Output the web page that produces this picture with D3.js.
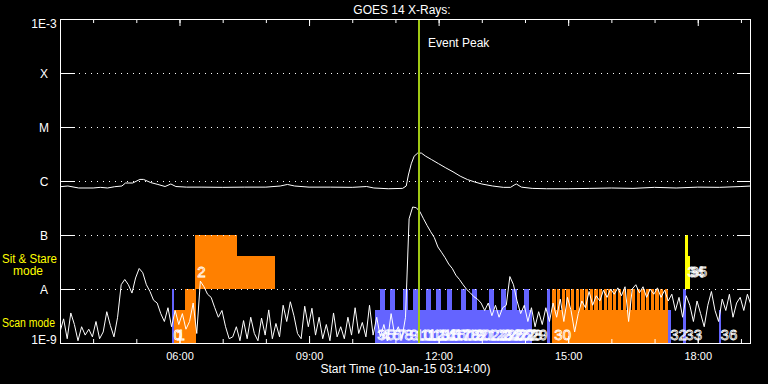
<!DOCTYPE html>
<html>
<head>
<meta charset="utf-8">
<script src="https://cdn.jsdelivr.net/npm/d3@7"></script>
<style>
  html, body { margin: 0; background: #000; }
  svg { display: block; background: #000; }
</style>
</head>
<body>
<svg id="chart" width="768" height="384"></svg>
<script>
const obsDate = [2015, 0, 10];
const startTime = '03:14';
const endTime = '19:14';
const eventPeak = '11:33';

// GOES 0.5-4 A channel in nW/m2, one sample every 5 minutes from startTime
const cadenceMinutes = 5;
const xrsShort = [
  1.6, 2.8, 1.2, 3.6, 2.2, 1.1, 2.0, 1.4, 1.8, 1.3,
  2.5, 1.2, 1.6, 3.8, 2.1, 1.3, 3.0, 12, 15, 12,
  8.4, 16, 24, 20, 12, 9, 6.2, 5.5, 3.5, 2.5,
  4.5, 2.0, 4.0, 2.2, 3.5, 1.8, 2.5, 5.5, 1.5, 14,
  11, 8, 7, 4.5, 3.0, 4.0, 2.0, 1.2, 1.3, 2.0,
  1.1, 2.6, 1.2, 3.0, 1.5, 1.1, 2.9, 1.4, 4.1, 1.2,
  2.3, 1.3, 5.0, 2.5, 5.8, 3.2, 1.5, 1.2, 4.8, 2.0,
  4.4, 1.4, 3.0, 1.2, 2.2, 1.1, 3.6, 1.3, 2.0, 1.2,
  3.0, 1.4, 4.5, 1.5, 2.4, 1.3, 5.0, 1.4, 3.0, 1.3,
  2.2, 1.1, 3.5, 1.4, 2.0, 1.2, 3.0, 200, 330, 320,
  270, 200, 150, 115, 90, 60, 48, 38, 29, 24,
  18, 15, 12, 9.8, 8.5, 7.2, 6.5, 5.5, 4.0, 5.5,
  3.2, 5.0, 3.0, 4.5, 5.0, 17, 12, 6, 3.5, 5,
  2.5, 4.5, 2.0, 3.8, 2.2, 4.5, 2.5, 5.5, 3.0, 6.5,
  2.5, 7, 4, 1.6, 3.5, 6, 4.5, 9, 5, 7.5,
  6, 9.5, 7, 10, 8, 10.5, 7.5, 11, 2.5, 10,
  12, 8.5, 11, 7, 10, 8, 10.5, 7, 9.5, 6,
  8, 4, 7, 3, 7.5, 5, 2.5, 6, 3.5, 2.0,
  5, 9, 4, 2.5, 6.5, 4, 8, 3, 5.5, 7,
  4, 8, 5,
];

// GOES 1-8 A channel in nW/m2
const xrsLongTimes = [
  '03:14', '03:25', '03:40', '04:00', '04:10', '04:20', '04:30', '04:40', '04:45', '04:55',
  '05:05', '05:10', '05:20', '05:30', '05:40', '05:48', '05:55', '06:10', '06:30', '07:00',
  '07:30', '08:00', '08:20', '08:30', '08:40', '09:00', '09:30', '10:00', '10:20', '10:30',
  '10:50', '11:10', '11:15', '11:18', '11:22', '11:26', '11:31', '11:36', '11:42', '11:50',
  '12:00', '12:10', '12:20', '12:30', '12:40', '12:50', '13:00', '13:15', '13:30', '13:40',
  '13:45', '13:48', '13:55', '14:10', '14:30', '15:00', '15:30', '16:00', '16:30', '17:00',
  '17:30', '18:00', '18:30', '19:00', '19:14',
];
const xrsLong = [
  784, 808, 742, 742, 763, 742, 784, 808, 918, 918,
  1070, 1070, 935, 863, 790, 880, 790, 770, 770, 763,
  770, 770, 808, 863, 808, 770, 770, 763, 790, 742,
  719, 730, 808, 1292, 2080, 2880, 3290, 3290, 2880, 2500,
  2090, 1750, 1480, 1230, 1065, 960, 880, 808, 763, 763,
  843, 880, 770, 730, 719, 719, 730, 742, 730, 763,
  742, 770, 763, 790, 808,
];

const yTickValues = [1e-9, 1e-8, 1e-7, 1e-6, 1e-5, 1e-4, 1e-3];
const yTickLabels = ['1E-9', 'A', 'B', 'C', 'M', 'X', '1E-3'];

// observations: start, end, program, base and top (nW/m2), number
const observations = [
  ['05:49', '05:53', 'p2', 1, 10, '0'],
  ['05:53', '06:07', 'p1', 1, 4, '1'],
  ['06:07', '06:23', 'p1', 1, 10, ''],
  ['06:22', '07:20', 'p1', 10, 100, '2'],
  ['07:20', '08:13', 'p1', 10, 40, ''],
  ['10:32', '10:38', 'p2', 1, 4, '3'],
  ['10:38', '10:45', 'p2', 1, 10, '4'],
  ['10:45', '10:53', 'p2', 1, 4, '5'],
  ['10:53', '11:00', 'p2', 1, 10, '6'],
  ['11:00', '11:10', 'p2', 1, 4, '7'],
  ['11:10', '11:17', 'p2', 1, 10, '8'],
  ['11:17', '11:25', 'p2', 1, 4, '9'],
  ['11:25', '11:32', 'p2', 1, 10, '10'],
  ['11:32', '11:42', 'p2', 1, 4, '11'],
  ['11:42', '11:49', 'p2', 1, 10, '12'],
  ['11:49', '11:57', 'p2', 1, 4, '13'],
  ['11:57', '12:04', 'p2', 1, 10, '14'],
  ['12:04', '12:12', 'p2', 1, 4, '15'],
  ['12:12', '12:19', 'p2', 1, 10, '16'],
  ['12:19', '12:31', 'p2', 1, 4, '17'],
  ['12:31', '12:38', 'p2', 1, 10, '18'],
  ['12:38', '12:47', 'p2', 1, 4, '19'],
  ['12:47', '12:54', 'p2', 1, 10, '20'],
  ['12:54', '13:10', 'p2', 1, 4, '21'],
  ['13:10', '13:17', 'p2', 1, 10, '22'],
  ['13:17', '13:26', 'p2', 1, 4, '23'],
  ['13:26', '13:33', 'p2', 1, 10, '24'],
  ['13:33', '13:42', 'p2', 1, 4, '25'],
  ['13:42', '13:49', 'p2', 1, 10, '26'],
  ['13:49', '13:58', 'p2', 1, 4, '27'],
  ['13:58', '14:05', 'p2', 1, 10, '28'],
  ['14:05', '14:10', 'p2', 1, 4, '29'],
  ['14:31', '14:35', 'p2', 1, 10, ''],
  ['14:38', '17:19', 'p1', 1, 4, '30'],
  ['17:19', '17:23', 'p2', 1, 4, '32'],
  ['17:40', '17:44', 'p2', 1, 10, '33'],
  ['17:43', '17:47', 'p3', 10, 100, '34'],
  ['17:47', '17:49', 'p3', 10, 40, '35'],
  ['18:29', '18:33', 'p2', 1, 4, '36'],
];

// repeated rasters of observation 31
const rasterStarts = [
  '14:38:00', '14:44:30', '14:51:00', '14:57:30', '15:04:00', '15:10:30', '15:17:00',
  '15:23:30', '15:30:00', '15:36:30', '15:43:00', '15:49:30', '15:56:00', '16:02:30',
  '16:09:00', '16:15:30', '16:22:00', '16:28:30', '16:35:00', '16:41:30', '16:48:00',
  '16:54:30', '17:01:00', '17:07:30', '17:14:00',
];
const rasterMinutes = 4.6;
const rasterFlux = [1, 10];

const programColors = { p1: '#ff8000', p2: '#6464ff', p3: '#ffff00' };
const font = "'Liberation Sans', Arial, sans-serif";
const nW = 1e-9;

const parseTime = (t) => {
  const [h, m, s] = t.split(':').map(Number);
  return new Date(Date.UTC(obsDate[0], obsDate[1], obsDate[2], h, m, s || 0));
};

const plot = { left: 60, right: 751, top: 19, bottom: 343 };

const x = d3.scaleUtc()
  .domain([parseTime(startTime), parseTime(endTime)])
  .range([plot.left, plot.right]);
const y = d3.scaleLog()
  .domain([1e-9, 1e-3])
  .range([plot.bottom, plot.top]);

const svg = d3.select('#chart');

svg.append('defs').append('clipPath')
  .attr('id', 'plot-clip')
  .append('rect')
    .attr('x', plot.left)
    .attr('y', plot.top)
    .attr('width', plot.right - plot.left)
    .attr('height', plot.bottom - plot.top);

// observation bars
const bars = svg.append('g').attr('shape-rendering', 'crispEdges');
bars.selectAll('rect.obs')
  .data(observations)
  .enter()
  .append('rect')
    .attr('class', 'obs')
    .attr('x', d => x(parseTime(d[0])))
    .attr('width', d => x(parseTime(d[1])) - x(parseTime(d[0])))
    .attr('y', d => y(d[4] * nW))
    .attr('height', d => y(d[3] * nW) - y(d[4] * nW))
    .attr('fill', d => programColors[d[2]]);

bars.selectAll('rect.raster')
  .data(rasterStarts)
  .enter()
  .append('rect')
    .attr('class', 'raster')
    .attr('x', d => x(parseTime(d)))
    .attr('width', d => x(new Date(parseTime(d).getTime() + rasterMinutes * 60000)) - x(parseTime(d)))
    .attr('y', y(rasterFlux[1] * nW))
    .attr('height', y(rasterFlux[0] * nW) - y(rasterFlux[1] * nW))
    .attr('fill', programColors.p1);

// dotted level lines
const grid = svg.append('g');
grid.selectAll('line')
  .data(yTickValues.slice(1, -1))
  .enter()
  .append('line')
    .attr('x1', plot.left + 15)
    .attr('x2', plot.right - 14)
    .attr('y1', d => Math.round(y(d)) + 0.5)
    .attr('y2', d => Math.round(y(d)) + 0.5)
    .attr('stroke', '#fff')
    .attr('stroke-dasharray', '1 5')
    .attr('stroke-dashoffset', -4);

// GOES curves
const shortTimes = xrsShort.map((v, i) => new Date(parseTime(startTime).getTime() + i * cadenceMinutes * 60000));
const curves = svg.append('g').attr('clip-path', 'url(#plot-clip)');

curves.append('path')
  .datum(xrsShort)
  .attr('fill', 'none')
  .attr('stroke', '#fff')
  .attr('stroke-width', 1)
  .attr('d', d3.line()
    .x((v, i) => x(shortTimes[i]))
    .y(v => y(Math.max(v, 1) * nW)));

curves.append('path')
  .datum(xrsLong)
  .attr('fill', 'none')
  .attr('stroke', '#fff')
  .attr('stroke-width', 1)
  .attr('d', d3.line()
    .x((v, i) => x(parseTime(xrsLongTimes[i])))
    .y(v => y(v * nW)));

// observation numbers
svg.append('g')
  .selectAll('text')
  .data(observations.filter(d => d[5] !== ''))
  .enter()
  .append('text')
    .attr('x', d => x(parseTime(d[0])) + 2)
    .attr('y', d => (d[3] >= 10 ? y(d[3] * nW) - 12 : plot.bottom - 3))
    .attr('font-family', font)
    .attr('font-size', 15)
    .attr('fill', 'none')
    .attr('stroke', '#fff')
    .attr('stroke-width', 0.8)
    .text(d => d[5]);

// event peak marker
const peakX = Math.round(x(parseTime(eventPeak)));
svg.append('line')
  .attr('x1', peakX)
  .attr('x2', peakX)
  .attr('y1', plot.top)
  .attr('y2', plot.bottom)
  .attr('stroke', '#a0c814')
  .attr('stroke-width', 2);
svg.append('text')
  .attr('x', peakX + 9)
  .attr('y', 47)
  .attr('font-family', font)
  .attr('font-size', 12)
  .attr('fill', '#fff')
  .text('Event Peak');

// frame and axes
svg.append('rect')
  .attr('x', plot.left + 0.5)
  .attr('y', plot.top + 0.5)
  .attr('width', plot.right - plot.left - 1)
  .attr('height', plot.bottom - plot.top)
  .attr('fill', 'none')
  .attr('stroke', '#fff');

const hideDomain = g => g.select('.domain').remove();

svg.append('g')
  .attr('transform', `translate(0,${plot.top})`)
  .attr('color', '#fff')
  .call(d3.axisTop(x).ticks(d3.utcHour.every(1)).tickSize(-4).tickFormat(''))
  .call(hideDomain);
svg.append('g')
  .attr('transform', `translate(0,${plot.top})`)
  .attr('color', '#fff')
  .call(d3.axisTop(x).ticks(d3.utcHour.every(3)).tickSize(-7).tickFormat(''))
  .call(hideDomain);
svg.append('g')
  .attr('transform', `translate(0,${plot.bottom})`)
  .attr('color', '#fff')
  .call(d3.axisBottom(x).ticks(d3.utcHour.every(1)).tickSize(-4).tickFormat(''))
  .call(hideDomain);
svg.append('g')
  .attr('transform', `translate(0,${plot.bottom})`)
  .attr('color', '#fff')
  .call(d3.axisBottom(x)
    .ticks(d3.utcHour.every(3))
    .tickSize(-7)
    .tickPadding(9)
    .tickFormat(d3.utcFormat('%H:%M')))
  .call(hideDomain)
  .call(g => g.selectAll('text').attr('font-family', font).attr('font-size', 11));

// level ticks, solid stubs on both sides
const levelTicks = svg.append('g').attr('stroke', '#fff');
levelTicks.selectAll('line.left')
  .data(yTickValues.slice(1, -1))
  .enter()
  .append('line')
    .attr('x1', plot.left)
    .attr('x2', plot.left + 15)
    .attr('y1', d => Math.round(y(d)) + 0.5)
    .attr('y2', d => Math.round(y(d)) + 0.5);
levelTicks.selectAll('line.right')
  .data(yTickValues.slice(1, -1))
  .enter()
  .append('line')
    .attr('x1', plot.right - 14)
    .attr('x2', plot.right)
    .attr('y1', d => Math.round(y(d)) + 0.5)
    .attr('y2', d => Math.round(y(d)) + 0.5);

svg.append('g')
  .attr('transform', `translate(${plot.left},0)`)
  .attr('color', '#fff')
  .call(d3.axisLeft(y)
    .tickValues(yTickValues)
    .tickSize(0)
    .tickPadding(16)
    .tickFormat((d, i) => yTickLabels[i]))
  .call(hideDomain)
  .call(g => g.selectAll('text')
    .attr('text-anchor', 'middle')
    .attr('font-family', font)
    .attr('font-size', 12)
    .attr('dy', (d, i) => (i === 0 ? '0em' : i === yTickValues.length - 1 ? '0.7em' : '0.4em')));

// titles
svg.append('text')
  .attr('x', 402)
  .attr('y', 14)
  .attr('text-anchor', 'middle')
  .attr('font-family', font)
  .attr('font-size', 12)
  .attr('fill', '#fff')
  .text('GOES 14 X-Rays:');

svg.append('text')
  .attr('x', (plot.left + plot.right) / 2)
  .attr('y', 373)
  .attr('text-anchor', 'middle')
  .attr('font-family', font)
  .attr('font-size', 12)
  .attr('fill', '#fff')
  .text(`Start Time (10-Jan-15 ${startTime}:00)`);

// mode captions, widths kept inside the left margin
const modeLabels = svg.append('g')
  .attr('font-family', font)
  .attr('font-size', 12)
  .attr('fill', '#ffff00');
modeLabels.append('text').attr('x', 2).attr('y', 263)
  .attr('textLength', 55).attr('lengthAdjust', 'spacingAndGlyphs').text('Sit & Stare');
modeLabels.append('text').attr('x', 13).attr('y', 275).text('mode');
modeLabels.append('text').attr('x', 2).attr('y', 327)
  .attr('textLength', 53).attr('lengthAdjust', 'spacingAndGlyphs').text('Scan mode');
</script>
</body>
</html>
